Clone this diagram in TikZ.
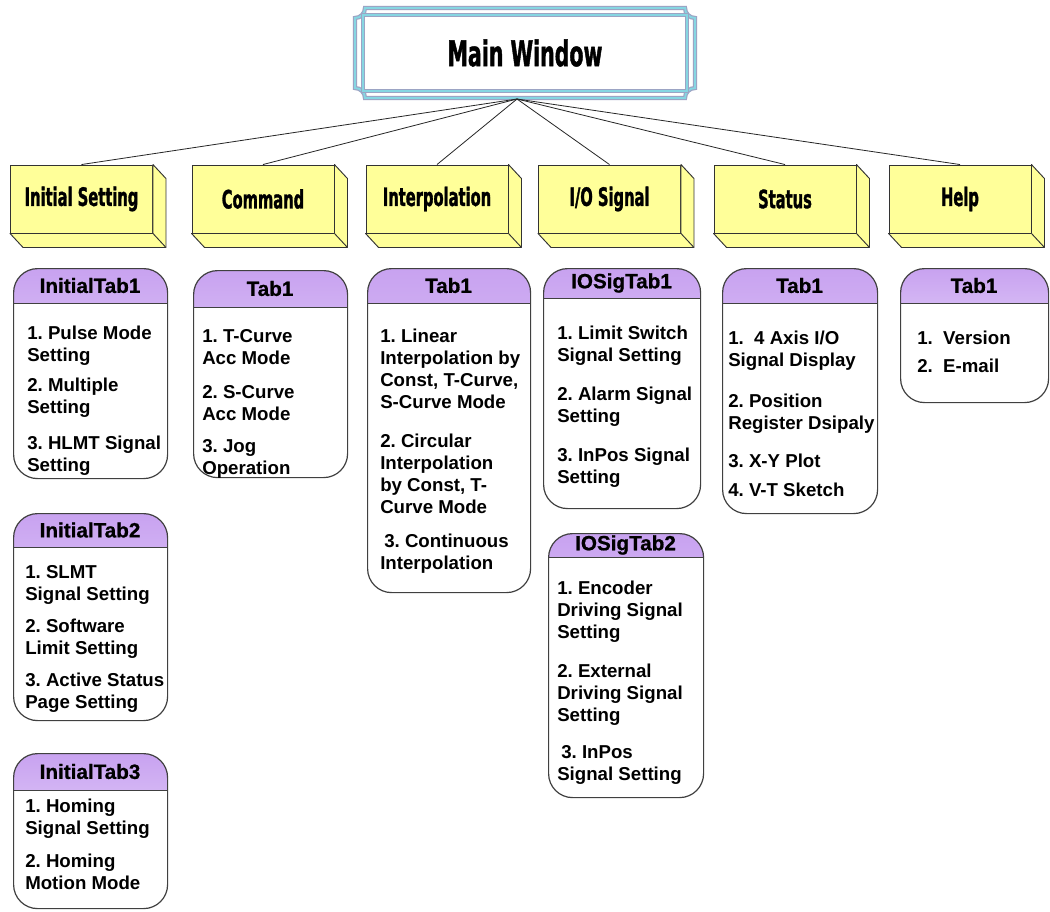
\documentclass[tikz,border=0pt]{standalone}
\usepackage{fontspec}
\setmainfont{Liberation Sans}
\newfontfamily\impactfont[FakeStretch=0.58, FakeBold=1.2, UprightFont=* Bold]{DejaVu Sans}
\newfontfamily\titlefont[FakeBold=0.8, UprightFont=* Bold]{Liberation Sans}
\usetikzlibrary{positioning}

\definecolor{boxyellow}{HTML}{FFFF99}
\definecolor{tabtop}{HTML}{C8A2F0}
\definecolor{tabbot}{HTML}{F6F0FF}
\definecolor{framecyan}{HTML}{86D6E2}
\definecolor{framegrey}{HTML}{9CA4C4}
\newcommand{\pix}{0.75pt}

\tikzset{
  mainwin/.style={minimum width=340*\pix, minimum height=90*\pix, inner sep=0pt,
    font=\impactfont\fontsize{26.5}{30}\selectfont},
  frameline/.style={draw=framegrey, line width=0.9pt, double=framecyan, double distance=1.4pt},
  menubox/.style={draw=black!80, line width=0.7pt, fill=boxyellow, inner sep=0pt,
    minimum width=142*\pix, minimum height=68*\pix,
    font=\impactfont\fontsize{19}{22}\selectfont},
  sideface/.style={draw=black!80, line width=0.7pt, fill=boxyellow, line join=round},
  link/.style={draw=black!85, line width=0.6pt},
  tabbox/.style={draw=black!75, line width=0.9pt, rounded corners=18pt, fill=white,
    inner sep=0pt, anchor=north west,
    path picture={
      \shade[sharp corners, top color=tabtop, bottom color=tabbot]
        (path picture bounding box.north west) rectangle ([yshift=-#1*\pix]path picture bounding box.north east);
      \draw[sharp corners, black!75, line width=0.9pt]
        ([yshift=-#1*\pix]path picture bounding box.north west) -- ([yshift=-#1*\pix]path picture bounding box.north east);
    }},
  tabtitle/.style={inner sep=0pt, font=\titlefont\fontsize{15.5}{18}\selectfont},
  tabtext/.style={inner sep=0pt, anchor=north west, align=left,
    font=\frenchspacing\bfseries\fontsize{14}{16.5}\selectfont},
}

\begin{document}
\begin{tikzpicture}[x=\pix, y=-\pix]
    \fill[white] (0,0) rectangle (1050,911);
    \useasboundingbox (0,0) rectangle (1050,911);

    % Main window with its double frame
    \node[mainwin] (main) at (525,53) {Main Window};
    \draw[frameline] (365,8) -- (685,8) arc[start angle=180, end angle=270, radius=7.5pt]
        -- (695,88) arc[start angle=90, end angle=180, radius=7.5pt]
        -- (365,98) arc[start angle=0, end angle=90, radius=7.5pt]
        -- (355,18) arc[start angle=270, end angle=360, radius=7.5pt] -- cycle;
    \draw[frameline] (363,15) rectangle (687,91);
    \coordinate (hub) at (517,99);

    % Menu boxes
    \node[menubox] (initset) at (81.5,199) {Initial Setting};
    \node[menubox] (command) at (263,199) {Command};
    \node[menubox] (interp) at (437,199) {Interpolation};
    \node[menubox] (iosig) at (609.5,199) {I/O Signal};
    \node[menubox] (status) at (785,199) {Status};
    \node[menubox] (help) at (960,199) {Help};

    \foreach \n in {initset,command,interp,iosig,status,help}{
        \filldraw[sideface] (\n.north east) -- ++(13,14) -- ([shift={(13,14)}]\n.south east)
            -- ([shift={(13,14)}]\n.south west) -- (\n.south west) -- (\n.south east) -- cycle;
        \draw[sideface] (\n.south east) -- ++(13,14);
        \draw[link] (hub) -- (\n.north);
    }

    % Initial Setting tabs
    \node[tabbox=35, minimum width=154*\pix, minimum height=210*\pix] (itab1) at (13,268) {};
    \node[tabtitle] (itab1-title) at (90,285.5) {InitialTab1};
    \node[tabtext] (itab1-items) at (27,326) {1. Pulse Mode\\Setting\\[6pt]2. Multiple\\Setting\\[10.5pt]3. HLMT Signal\\Setting};

    \node[tabbox=34, minimum width=154*\pix, minimum height=207*\pix] (itab2) at (13,513) {};
    \node[tabtitle] (itab2-title) at (90,530) {InitialTab2};
    \node[tabtext] (itab2-items) at (25,565) {1. SLMT\\Signal Setting\\[8pt]2. Software\\Limit Setting\\[7.5pt]3. Active Status\\Page Setting};

    \node[tabbox=37, minimum width=154*\pix, minimum height=155*\pix] (itab3) at (13,753) {};
    \node[tabtitle] (itab3-title) at (90,771.5) {InitialTab3};
    \node[tabtext] (itab3-items) at (25,799) {1. Homing\\Signal Setting\\[8pt]2. Homing\\Motion Mode};

    % Command tab
    \node[tabbox=37, minimum width=154*\pix, minimum height=207*\pix] (cmdtab) at (193,270) {};
    \node[tabtitle] (cmdtab-title) at (270,288.5) {Tab1};
    \node[tabtext] (cmdtab-items) at (202,329) {1. T-Curve\\Acc Mode\\[9pt]2. S-Curve\\Acc Mode\\[7.5pt]3. Jog\\Operation};

    % Interpolation tab
    \node[tabbox=35, minimum width=163*\pix, minimum height=324*\pix] (inttab) at (367,268) {};
    \node[tabtitle] (inttab-title) at (448.5,285.5) {Tab1};
    \node[tabtext] (inttab-items) at (380,329) {1. Linear\\Interpolation by\\Const, T-Curve,\\S-Curve Mode\\[12.75pt]2. Circular\\Interpolation\\by Const, T-\\Curve Mode\\[9pt]\hspace*{3pt}3. Continuous\\Interpolation};

    % I/O Signal tabs
    \node[tabbox=30, minimum width=157*\pix, minimum height=240*\pix] (iotab1) at (543,268) {};
    \node[tabtitle] (iotab1-title) at (621.5,283) {IOSigTab1};
    \node[tabtext] (iotab1-items) at (557,326) {1. Limit Switch\\Signal Setting\\[12.75pt]2. Alarm Signal\\Setting\\[12.75pt]3. InPos Signal\\Setting};

    \node[tabbox=24, minimum width=155*\pix, minimum height=264*\pix] (iotab2) at (548,533) {};
    \node[tabtitle] (iotab2-title) at (625.5,545) {IOSigTab2};
    \node[tabtext] (iotab2-items) at (557,581) {1. Encoder\\Driving Signal\\Setting\\[12.75pt]2. External\\Driving Signal\\Setting\\[11pt]\hspace*{3pt}3. InPos\\Signal Setting};

    % Status tab
    \node[tabbox=35, minimum width=155*\pix, minimum height=245*\pix] (sttab) at (722,268) {};
    \node[tabtitle] (sttab-title) at (799.5,285.5) {Tab1};
    \node[tabtext] (sttab-items) at (728,331) {1.\ \ 4 Axis I/O\\Signal Display\\[14pt]2. Position\\Register Dsipaly\\[12pt]3. X-Y Plot\\[5pt]4. V-T Sketch};

    % Help tab
    \node[tabbox=35, minimum width=148*\pix, minimum height=134*\pix] (hptab) at (900,268) {};
    \node[tabtitle] (hptab-title) at (974,285.5) {Tab1};
    \node[tabtext] (hptab-items) at (917,331) {1.\ \ Version\\[4.5pt]2.\ \ E-mail};
\end{tikzpicture}
\end{document}
